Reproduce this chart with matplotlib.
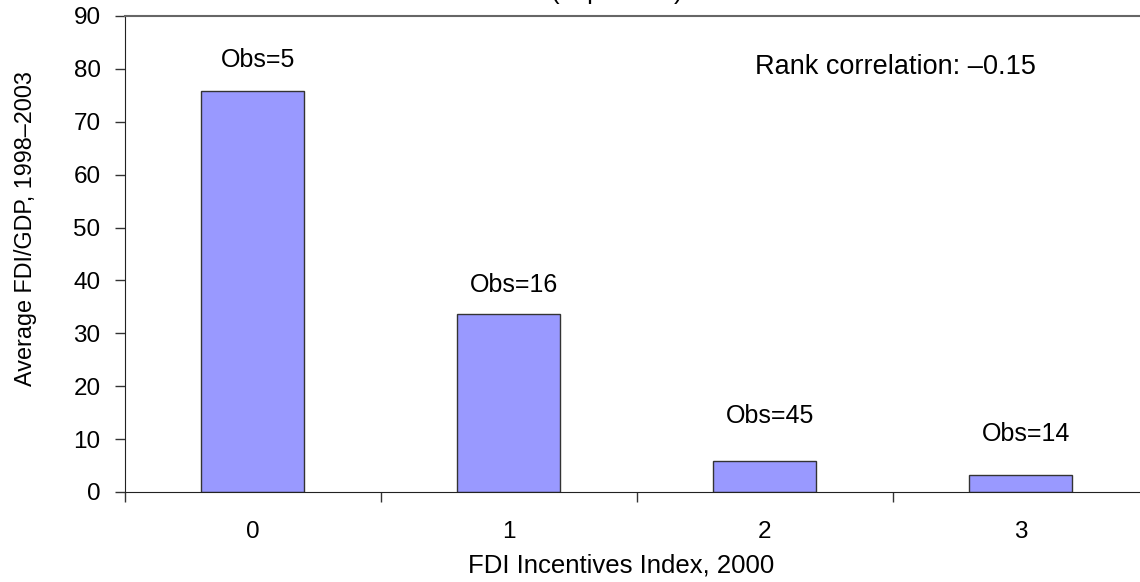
import matplotlib
matplotlib.use("Agg")
import matplotlib.pyplot as plt

# data
categories = ["0", "1", "2", "3"]
fdi_gdp    = [75.9, 33.6, 5.9, 3.2]
obs_labels = ["Obs=5", "Obs=16", "Obs=45", "Obs=14"]
obs_y      = [81.7, 39.1, 14.4, 10.9]
yticks     = list(range(0, 91, 10))

plt.rcParams["font.family"] = ["Liberation Sans", "DejaVu Sans"]

fig = plt.figure(figsize=(11.4, 5.82), dpi=100)
ax = fig.add_axes([124.5/1140, 90/582, 1024/1140, 476/582])

x = list(range(len(categories)))
ax.bar(x, fdi_gdp, width=0.4, color="#9999FF", edgecolor="#333333", linewidth=1)

for xi, lab, yy in zip(x, obs_labels, obs_y):
    ax.text(xi + 0.02, yy, lab, ha="center", va="center", fontsize=18)

ax.text(2.51, 80.3, "Rank correlation: \u20130.15", ha="center", va="center", fontsize=19.5)

ax.set_xlim(-0.5, 3.5)
ax.set_ylim(0, 90)

ax.set_yticks(yticks)
ax.tick_params(axis="y", direction="out", length=7.2, width=1, pad=10, labelsize=17.5, color="#333333")

ax.set_xticks(x)
ax.set_xticklabels(categories)
ax.set_xticks([-0.5, 0.5, 1.5, 2.5, 3.5], minor=True)
ax.tick_params(axis="x", which="major", length=0, pad=21, labelsize=17.5)
ax.tick_params(axis="x", which="minor", direction="out", length=7.2, width=1, color="#333333")

ax.spines["right"].set_visible(False)
ax.spines["top"].set_color("#666666")
ax.spines["top"].set_linewidth(1.5)
ax.spines["left"].set_color("#222222")
ax.spines["bottom"].set_color("#222222")

ax.set_xlabel("FDI Incentives Index, 2000", fontsize=18.5, va="center")
ax.xaxis.set_label_coords(0.485, (492 - 566) / 476)
ax.set_ylabel("Average FDI/GDP, 1998\u20132003", fontsize=16.8, va="center", ha="center")
ax.yaxis.set_label_coords((25 - 124.5) / 1024, (492 - 229) / 476)

# title sits mostly above the visible area in the reference
fig.text(616.5/1140, 1 + 1.5/582, "(in percent)", ha="center", va="baseline", fontsize=18.7)

fig.savefig("out.png", dpi=100)
